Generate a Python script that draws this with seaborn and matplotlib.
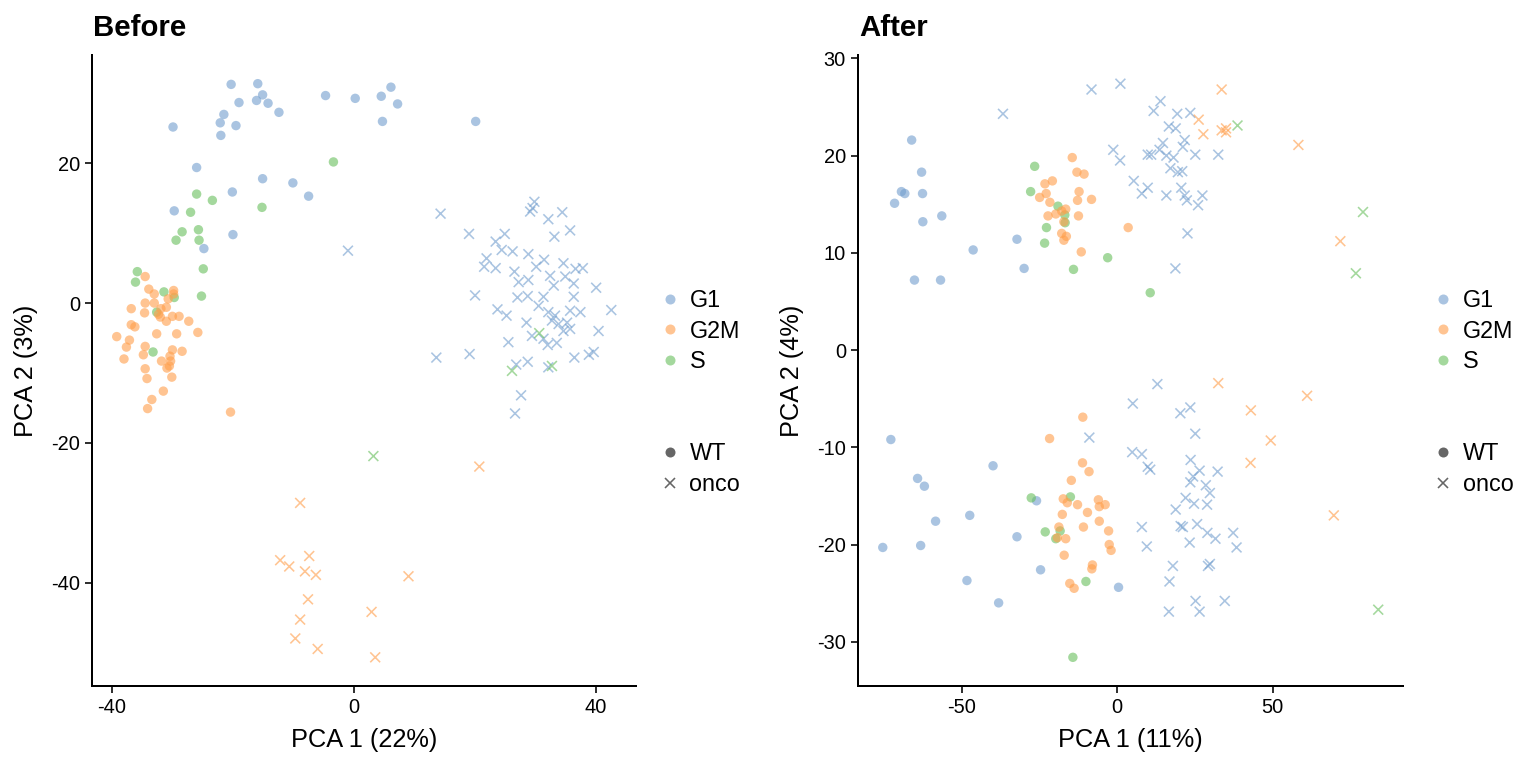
import matplotlib
matplotlib.use("Agg")
import matplotlib.pyplot as plt
from matplotlib.lines import Line2D
import seaborn as sns
import pandas as pd

# ---------------- data: "Before" panel ----------------
b_g1_wt_x = [-20.3,-15.9,-15.1,-19.0,-16.1,-14.2,-12.4,-21.5,-22.1,-19.5,-22.0,-29.9,-4.7,0.2,4.5,6.1,7.2,4.7,20.1,-26.0,-15.1,-10.1,-7.5,-20.1,-29.7,-20.0,-24.8]
b_g1_wt_y = [31.3,31.4,29.8,28.7,29.0,28.6,27.3,27.0,25.8,25.4,24.0,25.2,29.7,29.3,29.6,30.9,28.5,26.0,26.0,19.4,17.8,17.2,15.3,15.9,13.2,9.8,7.8]
b_s_wt_x = [-3.4,-26.0,-23.4,-15.2,-27.0,-28.4,-25.7,-29.4,-25.6,-24.9,-35.8,-36.1,-25.2,-31.4,-29.7,-32.6,-33.2]
b_s_wt_y = [20.2,15.6,14.7,13.7,13.0,10.2,10.5,9.0,9.0,4.9,4.5,3.0,1.0,1.6,0.8,-1.3,-7.0]
b_g2m_wt_x = [-34.5,-33.9,-33.0,-29.8,-29.8,-30.7,-34.5,-33.0,-31.0,-31.9,-36.8,-34.6,-32.3,-32.0,-30.0,-28.9,-31.0,-27.3,-36.8,-36.2,-39.2,-37.1,-32.6,-29.3,-25.8,-37.6,-34.5,-34.8,-38.0,-30.0,-28.4,-30.4,-31.8,-30.3,-30.9,-30.5,-34.5,-34.2,-30.1,-31.5,-33.4,-34.1,-20.4]
b_g2m_wt_y = [3.8,2.0,1.3,1.8,1.3,0.6,0.0,0.0,-0.6,-0.8,-0.8,-1.4,-1.6,-2.0,-1.9,-1.9,-2.6,-2.6,-3.1,-3.4,-4.8,-5.3,-4.4,-4.4,-4.2,-6.3,-6.2,-7.4,-8.0,-6.7,-6.9,-7.6,-8.3,-8.3,-9.3,-9.0,-9.4,-10.8,-10.6,-12.6,-13.8,-15.1,-15.6]
b_g1_onco_x = [14.3,29.8,29.1,29.5,32.1,34.4,19.0,24.9,23.4,33.1,35.7,24.4,26.2,21.9,21.5,23.4,28.8,31.4,30.1,34.6,36.6,37.8,26.5,27.2,28.8,32.4,34.9,36.3,33.0,40.0,20.0,27.0,28.7,31.3,36.3,23.7,25.2,30.5,32.1,33.2,35.7,37.4,42.5,28.5,32.7,33.8,35.2,35.7,34.6,29.4,31.3,40.4,25.5,32.0,33.5,13.6,19.1,26.8,28.7,32.1,36.4,38.8,39.6,27.6,26.6,-1.0]
b_g1_onco_y = [12.8,14.5,13.1,13.6,12.0,13.0,9.9,9.9,8.8,9.5,10.4,7.6,7.4,6.4,5.2,5.0,7.0,6.2,5.2,5.7,4.9,5.0,4.5,3.0,3.3,3.9,3.8,2.8,2.5,2.2,1.1,0.8,1.0,0.9,0.9,-0.9,-1.8,-0.4,-1.3,-1.8,-1.1,-1.3,-1.0,-2.8,-2.5,-3.0,-2.8,-3.7,-4.0,-4.7,-5.1,-4.0,-5.6,-6.0,-5.7,-7.8,-7.3,-8.8,-8.4,-9.2,-7.8,-7.4,-7.0,-13.2,-15.8,7.5]
b_s_onco_x = [30.6,26.1,32.7,3.2]
b_s_onco_y = [-4.3,-9.7,-9.0,-21.9]
b_g2m_onco_x = [-8.9,-12.2,-10.7,-7.4,-8.1,-6.3,9.0,-7.6,-8.9,2.9,-9.7,-6.0,3.5,20.7]
b_g2m_onco_y = [-28.6,-36.8,-37.7,-36.2,-38.4,-38.9,-39.1,-42.4,-45.3,-44.2,-48.0,-49.5,-50.7,-23.4]

# ---------------- data: "After" panel ----------------
a_g1_wt_x = [-66.2,-63.0,-69.5,-68.4,-62.7,-71.7,-56.5,-62.6,-46.4,-32.3,-30.0,-65.3,-56.9,-72.9,-40.0,-64.3,-62.1,-47.5,-58.5,-26.0,-32.3,-75.5,-63.3,-24.7,-48.4,-38.2,0.4]
a_g1_wt_y = [21.6,18.3,16.3,16.1,16.1,15.1,13.8,13.2,10.3,11.4,8.4,7.2,7.2,-9.2,-11.9,-13.2,-14.0,-17.0,-17.6,-15.5,-19.2,-20.3,-20.1,-22.6,-23.7,-26.0,-24.4]
a_s_wt_x = [-26.6,-27.9,-19.1,-16.9,-16.8,-22.8,-23.4,-14.1,-3.1,10.6,-27.7,-15.1,-23.2,-18.4,-19.8,-10.1,-14.3]
a_s_wt_y = [18.9,16.3,14.8,13.9,13.1,12.6,11.0,8.3,9.5,5.9,-15.2,-15.1,-18.7,-18.6,-19.4,-23.8,-31.6]
a_g2m_wt_x = [-14.5,-13.0,-10.7,-23.3,-20.9,-22.9,-12.3,-25.0,-21.7,-12.8,-8.3,-16.6,-17.9,-19.8,-22.3,-12.5,-17.2,-17.9,-16.4,-17.2,-11.6,3.5,-11.1,-21.8,-11.2,-9.1,-14.8,-17.4,-16.1,-12.8,-6.1,-5.8,-3.9,-17.7,-9.6,-5.8,-10.9,-18.8,-2.8,-19.3,-16.6,-2.6,-2.0,-17.1,-8.0,-8.2,-15.3,-13.9]
a_g2m_wt_y = [19.8,18.3,18.1,17.1,17.4,16.1,16.3,15.7,15.2,15.4,15.5,14.5,14.3,14.0,13.8,13.8,13.2,12.0,11.7,11.3,10.1,12.6,-6.9,-9.1,-11.6,-12.5,-13.4,-15.3,-15.7,-15.9,-15.4,-16.1,-15.9,-16.9,-16.7,-17.6,-18.2,-18.2,-18.6,-19.3,-19.4,-20.0,-20.6,-21.1,-22.1,-22.5,-24.0,-24.5]
a_g1_onco_x = [-36.8,-8.3,1.0,-1.3,0.9,13.9,11.7,19.3,23.5,16.6,18.8,14.7,21.7,21.1,9.8,10.9,13.6,15.8,18.1,25.1,32.5,17.1,19.5,20.9,5.3,9.8,7.9,15.8,20.6,21.7,22.4,27.4,26.0,22.6,18.7,-9.0,12.9,5.0,20.3,23.5,25.1,4.8,7.9,9.8,10.6,23.6,26.5,24.4,23.5,32.3,28.5,29.8,22.0,24.7,28.9,18.8,7.9,20.4,21.1,25.7,29.0,31.6,37.3,38.4,9.5,23.3,17.9,29.8,29.2,16.8,25.2,34.6,16.6,26.5]
a_g1_onco_y = [24.3,26.8,27.4,20.6,19.5,25.6,24.6,24.3,24.4,23.0,22.8,21.3,21.6,20.9,20.1,20.1,20.6,20.0,19.8,20.1,20.1,18.7,18.3,18.4,17.4,16.7,16.1,15.9,16.7,15.9,15.4,15.9,14.9,12.0,8.4,-9.0,-3.5,-5.5,-6.5,-5.9,-8.6,-10.5,-10.7,-12.0,-12.3,-11.3,-12.4,-13.0,-13.6,-12.5,-13.9,-14.7,-15.2,-15.8,-15.9,-16.4,-18.2,-18.1,-18.2,-17.9,-18.8,-19.4,-18.8,-20.3,-20.2,-19.8,-22.2,-22.0,-22.2,-23.8,-25.8,-25.8,-26.9,-26.9]
a_g2m_onco_x = [33.6,26.2,27.7,33.6,35.0,35.0,58.3,71.8,32.5,61.1,43.0,49.4,42.9,69.7]
a_g2m_onco_y = [26.8,23.7,22.2,22.6,22.8,22.4,21.1,11.2,-3.4,-4.7,-6.2,-9.3,-11.6,-17.0]
a_s_onco_x = [38.7,79.1,76.8,84.0]
a_s_onco_y = [23.1,14.2,7.9,-26.7]

phases = ["G1", "G2M", "S"]
genotypes = ["WT", "onco"]
palette = {"G1": "#729ECE", "G2M": "#FF9E4A", "S": "#67BF5C"}
titles = ["Before", "After"]
xlabels = ["PCA 1 (22%)", "PCA 1 (11%)"]
ylabels = ["PCA 2 (3%)", "PCA 2 (4%)"]
xticks = [[-40, 0, 40], [-50, 0, 50]]
yticks = [[-40, -20, 0, 20], [-30, -20, -10, 0, 10, 20, 30]]


def frame(groups):
    parts = []
    for (phase, geno), (xs, ys) in groups.items():
        parts.append(pd.DataFrame({"x": xs, "y": ys, "phase": phase, "geno": geno}))
    return pd.concat(parts, ignore_index=True)


before = frame({
    ("G1", "WT"): (b_g1_wt_x, b_g1_wt_y),
    ("S", "WT"): (b_s_wt_x, b_s_wt_y),
    ("G2M", "WT"): (b_g2m_wt_x, b_g2m_wt_y),
    ("G1", "onco"): (b_g1_onco_x, b_g1_onco_y),
    ("S", "onco"): (b_s_onco_x, b_s_onco_y),
    ("G2M", "onco"): (b_g2m_onco_x, b_g2m_onco_y),
})
after = frame({
    ("G1", "WT"): (a_g1_wt_x, a_g1_wt_y),
    ("S", "WT"): (a_s_wt_x, a_s_wt_y),
    ("G2M", "WT"): (a_g2m_wt_x, a_g2m_wt_y),
    ("G1", "onco"): (a_g1_onco_x, a_g1_onco_y),
    ("S", "onco"): (a_s_onco_x, a_s_onco_y),
    ("G2M", "onco"): (a_g2m_onco_x, a_g2m_onco_y),
})

sns.set_theme(style="ticks")
plt.rcParams["font.family"] = ["Liberation Sans", "DejaVu Sans"]
plt.rcParams["axes.unicode_minus"] = False
plt.rcParams["text.color"] = "black"
plt.rcParams["axes.labelcolor"] = "black"
plt.rcParams["xtick.color"] = "black"
plt.rcParams["ytick.color"] = "black"

W, H = 1536, 768
fig = plt.figure(figsize=(16, 8), dpi=96)

ax_boxes = [(92, 55, 636, 686), (858, 55, 1403, 686)]
leg_x = [658, 1431]

for i, df in enumerate([before, after]):
    l, t, r, b = ax_boxes[i]
    ax = fig.add_axes([l / W, (H - b) / H, (r - l) / W, (b - t) / H])
    sns.scatterplot(data=df[df.geno == "WT"], x="x", y="y", hue="phase",
                    hue_order=phases, palette=palette, marker="o", s=50,
                    alpha=0.6, edgecolor="none", legend=False, ax=ax)
    sns.scatterplot(data=df[df.geno == "onco"], x="x", y="y", hue="phase",
                    hue_order=phases, palette=palette, marker="x", s=55,
                    alpha=0.6, linewidth=1.2, legend=False, ax=ax)
    # ggplot-like 5% expansion
    xr = df.x.max() - df.x.min()
    yr = df.y.max() - df.y.min()
    ax.set_xlim(df.x.min() - 0.05 * xr, df.x.max() + 0.05 * xr)
    ax.set_ylim(df.y.min() - 0.05 * yr, df.y.max() + 0.05 * yr)
    ax.set_xticks(xticks[i])
    ax.set_yticks(yticks[i])
    ax.tick_params(labelsize=15, length=5, width=1.2, colors="black", pad=4)
    for s in ["top", "right"]:
        ax.spines[s].set_visible(False)
    for s in ["left", "bottom"]:
        ax.spines[s].set_linewidth(1.5)
        ax.spines[s].set_color("black")
    ax.set_xlabel(xlabels[i], fontsize=19, labelpad=8, color="black")
    ax.set_ylabel(ylabels[i], fontsize=19, labelpad=10, color="black")
    fig.text((l + 1) / W, (H - 36) / H, titles[i], fontsize=22,
             fontweight="bold", ha="left", va="baseline", color="black")

    # legends
    col_handles = [Line2D([], [], ls="none", marker="o", ms=7.5, mec="none",
                          mfc=palette[p], alpha=0.6) for p in phases]
    shp_handles = [Line2D([], [], ls="none", marker="o", ms=7.5, mec="none",
                          mfc="black", alpha=0.6),
                   Line2D([], [], ls="none", marker="x", ms=7.5, mew=1.2,
                          color="black", alpha=0.6)]
    common = dict(frameon=False, loc="center left", fontsize=17.5,
                  handlelength=1.0, handletextpad=0.35, borderpad=0,
                  borderaxespad=0, labelspacing=0.32,
                  bbox_transform=fig.transFigure)
    leg1 = ax.legend(col_handles, phases,
                     bbox_to_anchor=(leg_x[i] / W, (H - 331) / H), **common)
    for txt in leg1.get_texts():
        txt.set_color("black")
    ax.add_artist(leg1)
    leg2 = ax.legend(shp_handles, genotypes,
                     bbox_to_anchor=(leg_x[i] / W, (H - 469) / H), **common)
    for txt in leg2.get_texts():
        txt.set_color("black")

fig.savefig("out.png", dpi=96)
